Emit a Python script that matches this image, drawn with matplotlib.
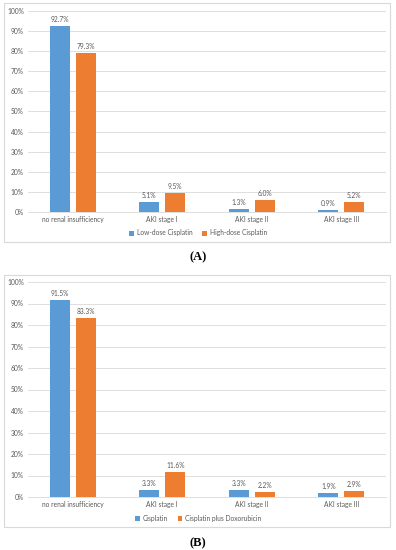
import numpy as np
import matplotlib.pyplot as plt
from matplotlib.patches import Rectangle

categories = ["no renal insufficiency", "AKI stage I", "AKI stage II", "AKI stage III"]

# panel A
low_dose = [92.7, 5.1, 1.3, 0.9]
high_dose = [79.3, 9.5, 6.0, 5.2]
labels_a = ["Low-dose Cisplatin", "High-dose Cisplatin"]

# panel B
cisplatin = [91.5, 3.3, 3.3, 1.9]
cis_doxo = [83.3, 11.6, 2.2, 2.9]
labels_b = ["Cisplatin", "Cisplatin plus Doxorubicin"]

blue = "#5B9BD5"
orange = "#ED7D31"
grey = "#595959"
W, H = 396.0, 550.0

plt.rcParams["font.family"] = ["Lato", "DejaVu Sans"]
fig = plt.figure(figsize=(W / 100, H / 100), dpi=100)


def fx(px):
    return px / W


def fy(py):
    return 1 - py / H


def panel(box, ax_rect, s1, s2, names, legend_y, tag, tag_y):
    # outer frame
    x0, y0, x1, y1 = box
    fig.patches.append(Rectangle((fx(x0), fy(y1)), fx(x1 - x0), (y1 - y0) / H,
                                 transform=fig.transFigure, fill=False,
                                 edgecolor="#D9D9D9", lw=0.8))
    l, t, r, b = ax_rect
    ax = fig.add_axes([fx(l), fy(b), fx(r - l), (b - t) / H])
    x = np.arange(len(categories))
    w = 0.22
    ax.bar(x - 0.145, s1, w, color=blue, label=names[0], zorder=3)
    ax.bar(x + 0.145, s2, w, color=orange, label=names[1], zorder=3)
    for i in range(len(categories)):
        ax.text(x[i] - 0.145, s1[i] + 1.5, "%.1f%%" % s1[i], ha="center", va="bottom",
                fontsize=4.8, color=grey)
        ax.text(x[i] + 0.145, s2[i] + 1.5, "%.1f%%" % s2[i], ha="center", va="bottom",
                fontsize=4.8, color=grey)
    ax.set_xlim(-0.5, 3.5)
    ax.set_ylim(0, 100)
    ax.set_yticks(range(0, 101, 10))
    ax.set_yticklabels(["%d%%" % v for v in range(0, 101, 10)])
    ax.set_xticks(x)
    ax.set_xticklabels(categories)
    ax.tick_params(axis="both", length=0, labelsize=4.8, labelcolor=grey, pad=3)
    ax.grid(axis="y", color="#D9D9D9", lw=0.6, zorder=0)
    for s in ["top", "right", "left"]:
        ax.spines[s].set_visible(False)
    ax.spines["bottom"].set_color("#D9D9D9")
    ax.spines["bottom"].set_linewidth(0.6)
    ax.legend(loc="center", bbox_to_anchor=(0.5, fy(legend_y)), bbox_transform=fig.transFigure,
              ncol=2, frameon=False, fontsize=4.8, handlelength=0.7, handleheight=0.7,
              columnspacing=1.5, handletextpad=0.4, labelcolor=grey)
    fig.text(0.5, fy(tag_y), tag, ha="center", va="center", fontsize=9,
             family="Liberation Serif", fontweight="bold")
    return ax


panel((4, 3, 390, 242), (28, 11, 386, 212), low_dose, high_dose, labels_a, 233, "(A)", 257)
panel((4, 275, 390, 527), (28, 282, 386, 497), cisplatin, cis_doxo, labels_b, 518, "(B)", 543)

fig.savefig("out.png", dpi=100, facecolor="white")
